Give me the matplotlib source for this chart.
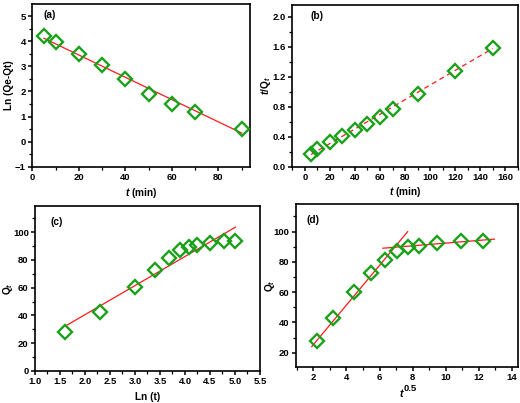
import numpy as np
import matplotlib
matplotlib.use("Agg")
import matplotlib.pyplot as plt
from matplotlib.ticker import MultipleLocator

plt.rcParams['font.family'] = ['Liberation Sans', 'DejaVu Sans']
plt.rcParams['font.weight'] = 'bold'
plt.rcParams['mathtext.fontset'] = 'custom'
plt.rcParams['mathtext.rm'] = 'Liberation Sans:bold'
plt.rcParams['mathtext.it'] = 'Liberation Sans:bold:italic'
plt.rcParams['mathtext.bf'] = 'Liberation Sans:bold'

# ---- data ----
t_a = [5, 10, 20, 30, 40, 50, 60, 70, 90]
lnq_a = [4.2, 3.95, 3.5, 3.05, 2.5, 1.9, 1.5, 1.17, 0.52]
fit_a_x = [5, 90]
fit_a = (-0.0444, 4.34)  # slope, intercept

t_b = [5, 10, 20, 30, 40, 50, 60, 70, 90, 120, 150]
tq_b = [0.165, 0.236, 0.333, 0.413, 0.49, 0.565, 0.66, 0.765, 0.97, 1.28, 1.59]
fit_b_x = [5, 150]
fit_b = (0.00976, 0.115)

lnt_c = [1.61, 2.30, 3.00, 3.40, 3.69, 3.91, 4.09, 4.25, 4.50, 4.79, 5.01]
qt_c = [27.7, 42.6, 60.2, 72.5, 81.4, 87.2, 89.6, 90.8, 92.5, 93.7, 94.0]
fit_c_x = [1.61, 5.01]
fit_c = (21.0, -1.5)

sqt_d = [2.24, 3.16, 4.47, 5.48, 6.32, 7.07, 7.75, 8.37, 9.49, 10.95, 12.25]
qt_d = [27.7, 42.6, 60.2, 72.5, 81.4, 87.2, 89.6, 90.8, 92.5, 93.7, 94.0]
fit_d1_x = [1.9, 7.7]
fit_d1 = (13.1, -0.9)
fit_d2_x = [6.2, 12.95]
fit_d2 = (0.89, 83.5)

green = '#1aa01a'
red = '#ff1a1a'
FS = 6.8

fig = plt.figure(figsize=(5.2, 4.03), dpi=100)

def style(ax, xmaj, xmin, ymaj, ymin):
    for s in ax.spines.values():
        s.set_linewidth(1.2)
    ax.xaxis.set_major_locator(MultipleLocator(xmaj))
    ax.xaxis.set_minor_locator(MultipleLocator(xmin))
    ax.yaxis.set_major_locator(MultipleLocator(ymaj))
    ax.yaxis.set_minor_locator(MultipleLocator(ymin))
    ax.tick_params(which='major', direction='out', length=3, width=1.1, labelsize=FS, pad=1.5)
    ax.tick_params(which='minor', direction='out', length=2, width=0.9)
    for lab in ax.get_xticklabels() + ax.get_yticklabels():
        lab.set_fontweight('bold')

def pts(ax, x, y):
    ax.plot(x, y, linestyle='none', marker='D', markersize=7, markerfacecolor='none',
            markeredgecolor=green, markeredgewidth=1.7, zorder=3)

def fit(ax, xr, p, ls='-'):
    xr = np.array(xr, dtype=float)
    ax.plot(xr, p[0] * xr + p[1], color=red, lw=0.9, ls=ls, zorder=2)

def labels(ax, xl, yl, xy, yx, tag, tx, ty):
    ax.set_xlabel(xl, fontsize=FS + 0.5, fontweight='bold')
    ax.set_ylabel(yl, fontsize=FS + 0.5, fontweight='bold')
    ax.xaxis.set_label_coords(0.5, xy)
    ax.yaxis.set_label_coords(yx, 0.5)
    ax.xaxis.label.set_va('center')
    ax.yaxis.label.set_va('center')
    ax.text(tx, ty, tag, transform=ax.transAxes, fontsize=FS + 0.5,
            fontweight='bold', va='center', ha='left')

# (a)
ax = fig.add_axes([0.062, 0.586, 0.419, 0.404])
pts(ax, t_a, lnq_a)
fit(ax, fit_a_x, fit_a)
ax.set_xlim(0, 93.6)
ax.set_ylim(-1, 5.48)
style(ax, 20, 10, 1, 0.5)
labels(ax, '$t$ (min)', 'Ln (Qe-Qt)', -0.158, -0.107, '(a)', 0.05, 0.93)

# (b)
ax = fig.add_axes([0.562, 0.586, 0.434, 0.402])
pts(ax, t_b, tq_b)
fit(ax, fit_b_x, fit_b, ls=(0, (4, 3)))
ax.set_xlim(-10, 170)
ax.set_ylim(0, 2.16)
style(ax, 20, 10, 0.4, 0.2)
labels(ax, '$t$ (min)', '$t$/Q$_t$', -0.158, -0.118, '(b)', 0.08, 0.93)

# (c)
ax = fig.add_axes([0.0673, 0.080, 0.4327, 0.409])
pts(ax, lnt_c, qt_c)
fit(ax, fit_c_x, fit_c)
ax.set_xlim(1.0, 5.5)
ax.set_ylim(0, 119)
style(ax, 0.5, 0.25, 20, 10)
labels(ax, 'Ln (t)', 'Q$_t$', -0.16, -0.12, '(c)', 0.067, 0.90)

# (d)
ax = fig.add_axes([0.5687, 0.090, 0.427, 0.404])
pts(ax, sqt_d, qt_d)
fit(ax, fit_d1_x, fit_d1)
fit(ax, fit_d2_x, fit_d2)
ax.set_xlim(0.93, 14.36)
ax.set_ylim(10.7, 118.3)
style(ax, 2, 1, 20, 10)
labels(ax, '', 'Q$_t$', -0.16, -0.116, '(d)', 0.05, 0.90)
ax.text(0.483, -0.165, 't', transform=ax.transAxes, fontsize=FS + 0.8,
        fontweight='bold', fontstyle='italic', ha='right', va='center')
ax.text(0.487, -0.135, '0.5', transform=ax.transAxes, fontsize=FS,
        fontweight='bold', ha='left', va='center')

fig.savefig('out.png', dpi=100)
